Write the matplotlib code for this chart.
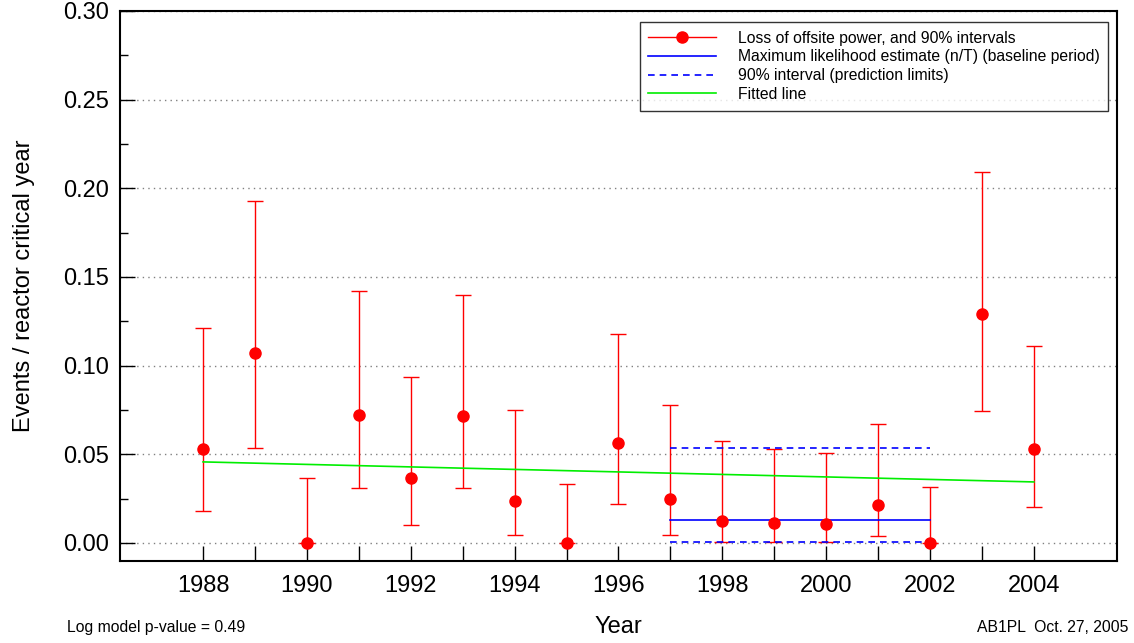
import numpy as np
import matplotlib.pyplot as plt
from matplotlib.lines import Line2D
from matplotlib.ticker import MultipleLocator, FixedLocator

plt.rcParams['font.family'] = ['Liberation Sans', 'DejaVu Sans']

# loss of offsite power event rates by year, with 90% interval bounds
years = np.arange(1988, 2005)
rate = [0.053, 0.107, 0.0, 0.072, 0.0367, 0.0716, 0.0237, 0.0, 0.0564,
        0.0248, 0.0122, 0.0111, 0.0105, 0.0214, 0.0, 0.129, 0.053]
upper = [0.121, 0.193, 0.0367, 0.142, 0.0936, 0.140, 0.075, 0.0333, 0.118,
         0.0778, 0.0577, 0.0528, 0.051, 0.067, 0.0314, 0.209, 0.111]
lower = [0.018, 0.0536, 0.0, 0.031, 0.0102, 0.031, 0.0045, 0.0, 0.022,
         0.0045, 0.0004, 0.0003, 0.0003, 0.0039, 0.0, 0.0745, 0.0203]

# baseline period MLE and prediction limits
base_years = [1997, 2002]
mle = 0.0132
pred_hi = 0.0538
pred_lo = 0.0003

# fitted (log model) line
fit_years = [1988, 2004]
fit_vals = [0.0457, 0.0344]

rate = np.array(rate)
yerr = [rate - np.array(lower), np.array(upper) - rate]

fig = plt.figure(figsize=(11.34, 6.43), dpi=100)
ax = fig.add_axes([0.1058, 0.1275, 0.8792, 0.8554])

ax.errorbar(years, rate, yerr=yerr, fmt='none', ecolor='red', elinewidth=1,
            capsize=6, capthick=1, zorder=2)
ax.plot(fit_years, fit_vals, color='#00ee00', lw=1.2, zorder=3)
ax.plot(base_years, [mle, mle], color='blue', lw=1.2, zorder=3)
ax.plot(base_years, [pred_hi, pred_hi], color='blue', lw=1.2, ls=(0, (4, 3)), zorder=3)
ax.plot(base_years, [pred_lo, pred_lo], color='blue', lw=1.2, ls=(0, (4, 3)), zorder=3)
ax.plot(years, rate, 'o', color='red', ms=8, zorder=4)

ax.set_xlim(1986.4, 2005.6)
ax.set_ylim(-0.0102, 0.30)
ax.xaxis.set_major_locator(MultipleLocator(2))
ax.xaxis.set_minor_locator(FixedLocator(years))
ax.yaxis.set_major_locator(MultipleLocator(0.05))
ax.yaxis.set_minor_locator(MultipleLocator(0.025))
ax.yaxis.set_major_formatter(plt.FormatStrFormatter('%.2f'))
ax.tick_params(which='both', direction='in', top=False, right=False, labelsize=17, width=1)
ax.tick_params(axis='x', which='both', length=11, pad=10)
ax.tick_params(axis='y', which='major', length=11, pad=8)
ax.tick_params(axis='y', which='minor', length=6)
ax.grid(axis='y', which='major', color='gray', ls=(0, (1, 3)), lw=1)
for s in ax.spines.values():
    s.set_linewidth(1.5)

ax.set_xlabel('Year', fontsize=17, labelpad=14)
ax.set_ylabel('Events / reactor critical year', fontsize=17, labelpad=20)

handles = [
    Line2D([], [], color='red', lw=1, marker='o', ms=8),
    Line2D([], [], color='blue', lw=1.2),
    Line2D([], [], color='blue', lw=1.2, ls=(0, (4, 3))),
    Line2D([], [], color='#00ee00', lw=1.2),
]
labels = ['Loss of offsite power, and 90% intervals',
          'Maximum likelihood estimate (n/T) (baseline period)',
          '90% interval (prediction limits)',
          'Fitted line']
leg = ax.legend(handles, labels, loc='upper right', bbox_to_anchor=(0.991, 0.98),
                borderaxespad=0, fontsize=11.3, frameon=True, fancybox=False,
                handlelength=4.3, handletextpad=1.4, labelspacing=0.24,
                borderpad=0.55)
leg.get_frame().set_edgecolor('black')
leg.get_frame().set_linewidth(1)

fig.text(0.059, 0.017, 'Log model p-value = 0.49', fontsize=11.3)
fig.text(0.9947, 0.017, 'AB1PL  Oct. 27, 2005', fontsize=11.3, ha='right')

fig.savefig('out.png', dpi=100)
